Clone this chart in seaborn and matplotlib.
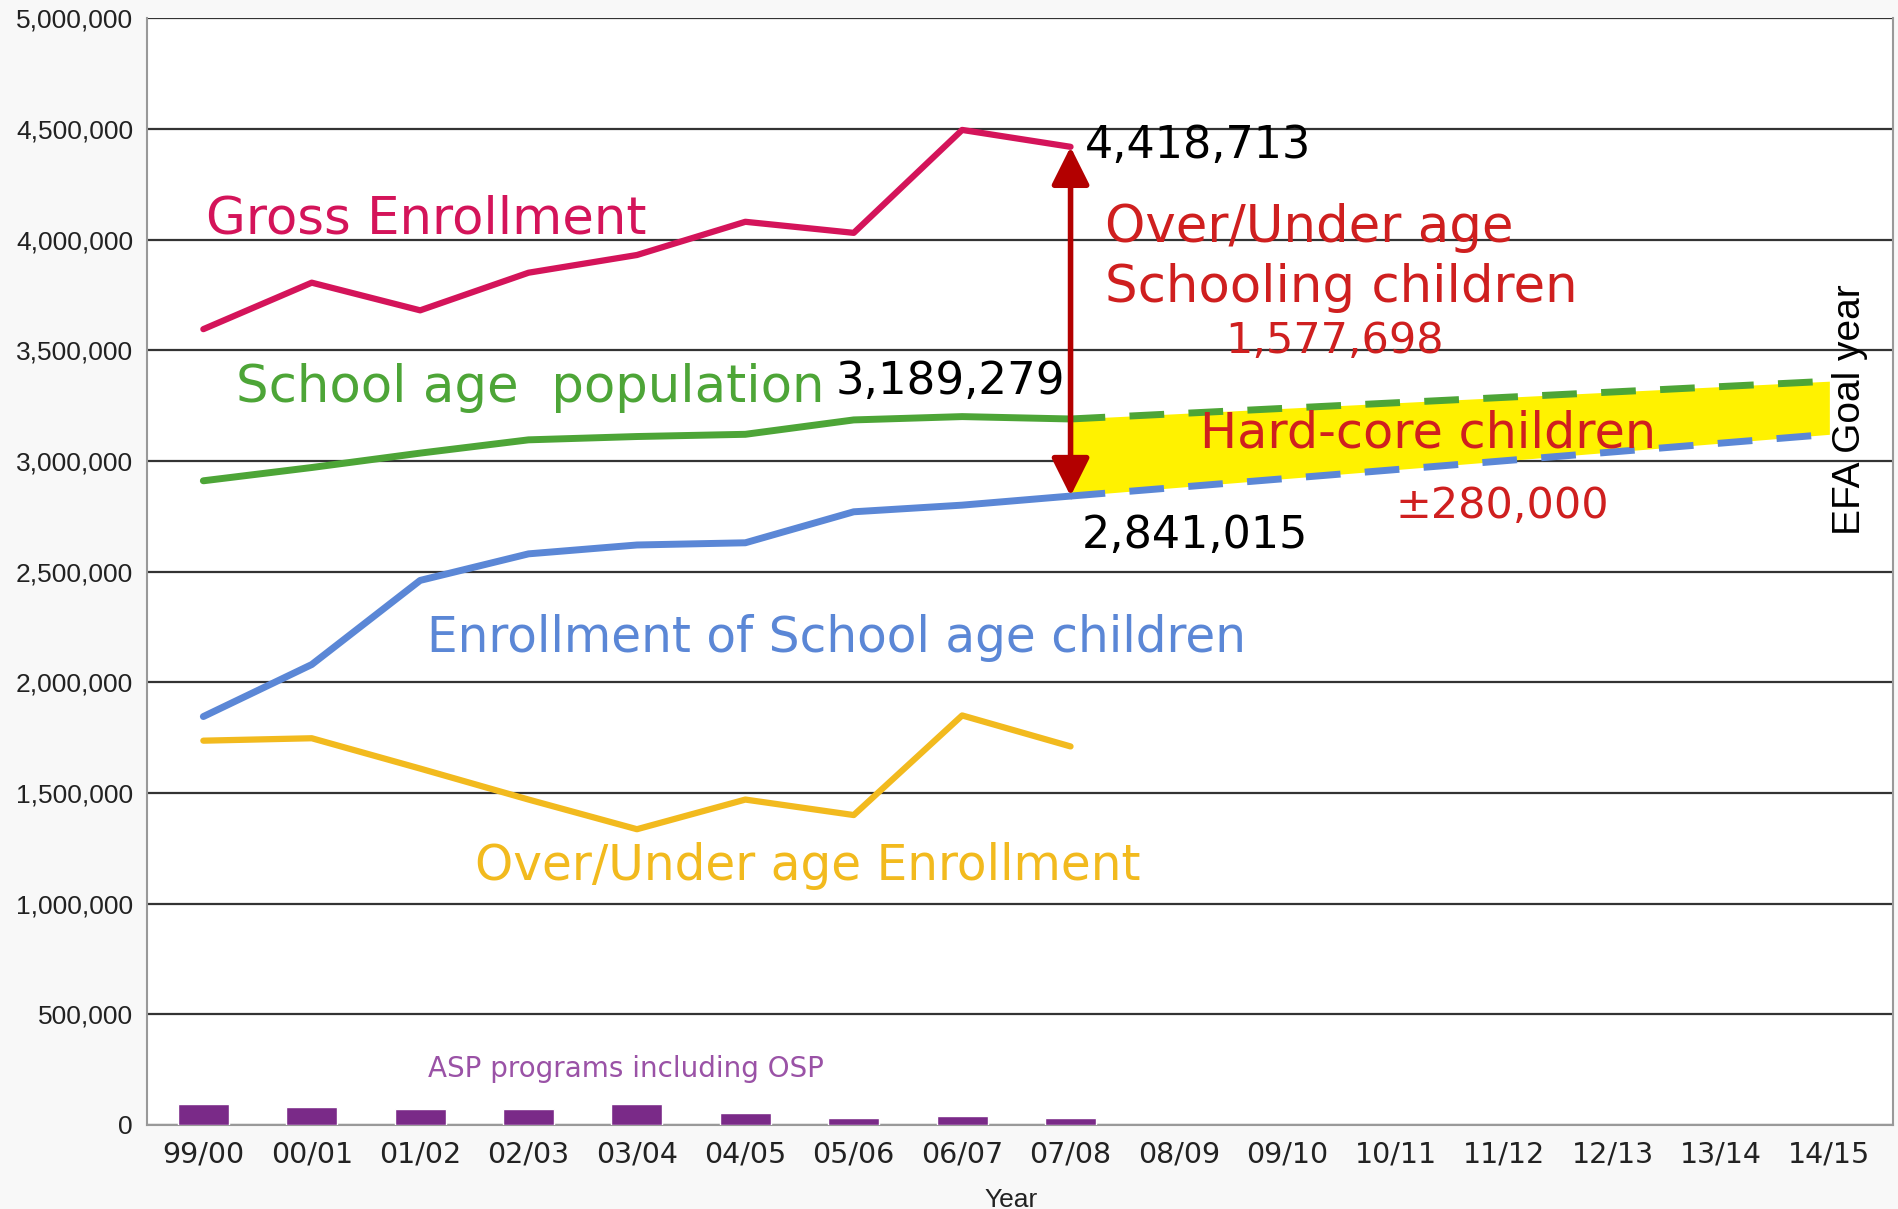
import numpy as np
import pandas as pd
import matplotlib
matplotlib.use('Agg')
import matplotlib.pyplot as plt
import seaborn as sns
from matplotlib.ticker import FuncFormatter

# data
years = ['99/00', '00/01', '01/02', '02/03', '03/04', '04/05', '05/06', '06/07',
         '07/08', '08/09', '09/10', '10/11', '11/12', '12/13', '13/14', '14/15']
gross = [3595000, 3805000, 3680000, 3850000, 3930000, 4080000, 4030000, 4495000, 4418713]
school_pop = [2910000, 2970000, 3035000, 3095000, 3110000, 3120000, 3185000, 3200000, 3189279]
school_enr = [1845000, 2080000, 2460000, 2580000, 2620000, 2630000, 2770000, 2800000, 2841015]
over_under = [1736000, 1747000, 1610000, 1470000, 1336000, 1470000, 1400000, 1850000, 1710000]
asp = [94000, 79000, 73000, 70000, 94000, 52000, 33000, 42000, 33000]

proj_years = ['07/08', '14/15']
pop_proj = [3189279, 3360000]
enr_proj = [2841015, 3120000]

PINK = '#D4145A'
GREEN = '#4DA537'
BLUE = '#5B87D6'
GOLD = '#F2BA1E'
PURPLE = '#7A2A88'
RED = '#CF1F1F'
DARKRED = '#B30000'

sns.set_theme(style='white')
plt.rcParams['font.family'] = ['Liberation Sans', 'DejaVu Sans']
WIDE = ['DejaVu Sans']

pos = {y: i for i, y in enumerate(years)}
n = len(gross)
x_hist = [pos[y] for y in years[:n]]
x_proj = [pos[y] for y in proj_years]

fig = plt.figure(figsize=(18.99, 12.09), dpi=100, facecolor='#F8F8F8')
ax = fig.add_axes([0.0774, 0.0695, 0.9196, 0.9155])
ax.set_facecolor('white')

# bars
df_bar = pd.DataFrame({'year': years[:n], 'asp': asp})
sns.barplot(data=df_bar, x='year', y='asp', order=years, color=PURPLE,
            width=0.47, saturation=1, ax=ax, zorder=3)

# projections + hard-core band
ax.fill_between(x_proj, enr_proj, pop_proj, color='#FFF200', zorder=2, linewidth=0)
sns.lineplot(x=x_proj, y=pop_proj, color=GREEN, linewidth=5,
             linestyle=(0, (5, 3.5)), ax=ax, zorder=4)
sns.lineplot(x=x_proj, y=enr_proj, color=BLUE, linewidth=5,
             linestyle=(0, (5, 3.5)), ax=ax, zorder=4)

# actual series
sns.lineplot(x=x_hist, y=gross, color=PINK, linewidth=4.5, ax=ax, zorder=5)
sns.lineplot(x=x_hist, y=school_pop, color=GREEN, linewidth=5, ax=ax, zorder=5)
sns.lineplot(x=x_hist, y=school_enr, color=BLUE, linewidth=5, ax=ax, zorder=5)
sns.lineplot(x=x_hist, y=over_under, color=GOLD, linewidth=4.5, ax=ax, zorder=5)

# gap arrow
ax.annotate('', xy=(x_hist[-1], gross[-1]), xytext=(x_hist[-1], school_enr[-1]),
            arrowprops=dict(arrowstyle='<|-|>', color=DARKRED, lw=4,
                            mutation_scale=58, shrinkA=0, shrinkB=0),
            zorder=6)

# labels
def label(x, y, s, color, size, **kw):
    ax.text(x, y, s, color=color, fontsize=size, va='center', family=WIDE, **kw)

label(0.02, 4.09e6, 'Gross Enrollment', PINK, 37)
label(0.30, 3.33e6, 'School age  population', GREEN, 37)
label(5.83, 3.36e6, '3,189,279', 'black', 32.5)
label(8.13, 4.425e6, '4,418,713', 'black', 32)
label(8.32, 4.05e6, 'Over/Under age', RED, 37)
label(8.32, 3.78e6, 'Schooling children', RED, 37)
label(9.43, 3.54e6, '1,577,698', RED, 31)
label(9.19, 3.125e6, 'Hard-core children', RED, 35.5, zorder=7)
label(11.0, 2.795e6, '\u00b1280,000', RED, 31)
label(8.10, 2.665e6, '2,841,015', 'black', 32)
label(2.06, 2.20e6, 'Enrollment of School age children', BLUE, 35)
label(2.51, 1.17e6, 'Over/Under age Enrollment', GOLD, 35)
label(2.07, 0.255e6, 'ASP programs including OSP', '#9A52A6', 20)
ax.text(15.19, 3.23e6, 'EFA Goal year', color='black', fontsize=28, rotation=90,
        ha='center', va='center')

# axes styling
ax.set_xlim(-0.52, 15.59)
ax.set_ylim(0, 5e6)
ax.set_yticks(np.arange(0, 5000001, 500000))
ax.yaxis.set_major_formatter(FuncFormatter(lambda v, p: f'{int(v):,}'))
ax.set_xticks(range(len(years)))
ax.set_xticklabels(years, family=WIDE, fontsize=20.5)
ax.tick_params(axis='both', length=0, colors='#222222')
ax.tick_params(axis='y', labelsize=19, pad=10)
ax.tick_params(axis='x', pad=11)
ax.set_xlabel('Year', fontsize=19, color='#222222')
ax.xaxis.set_label_coords(0.495, -0.057)
ax.set_ylabel('')
ax.grid(axis='y', color='#333333', linewidth=1.6, zorder=0)
ax.set_axisbelow(True)
for side in ['left', 'bottom', 'right']:
    ax.spines[side].set_color('#999999')
    ax.spines[side].set_linewidth(1.5)
ax.spines['top'].set_visible(False)

fig.savefig('out.png', dpi=100, facecolor=fig.get_facecolor())
